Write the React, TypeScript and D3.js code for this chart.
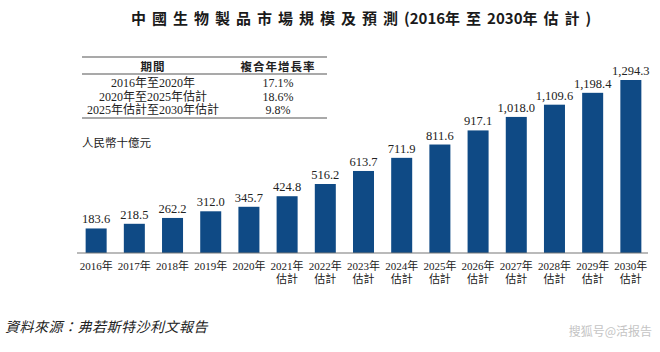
import * as d3 from "d3";

const years = ["2016", "2017", "2018", "2019", "2020", "2021", "2022", "2023", "2024", "2025", "2026", "2027", "2028", "2029", "2030"];
const estimated = [false, false, false, false, false, true, true, true, true, true, true, true, true, true, true];
const values = [183.6, 218.5, 262.2, 312.0, 345.7, 424.8, 516.2, 613.7, 711.9, 811.6, 917.1, 1018.0, 1109.6, 1198.4, 1294.3];

const cagrPeriods = ["2016年至2020年", "2020年至2025年估計", "2025年估計至2030年估計"];
const cagrRates = ["17.1%", "18.6%", "9.8%"];

const titleParts = [
  { t: "中國生物製品市場規模及預測", cjk: true },
  { t: "(2016", cjk: false },
  { t: "年至", cjk: true },
  { t: "2030", cjk: false },
  { t: "年估計", cjk: true },
  { t: ")", cjk: false },
];

const serif = "'Liberation Serif', 'Noto Sans CJK TC', serif";
const sansBold = "'Noto Sans CJK TC', 'Liberation Sans', sans-serif";

export default function App() {
  const width = 660;
  const height = 352;
  const baseY = 253;
  const x = d3.scaleBand<string>().domain(years).range([78, 649]).paddingInner(0.45).paddingOuter(0.2);
  const y = d3.scaleLinear([0, 1400], [baseY, baseY - 1400 * 0.13366]);
  const fmt = d3.format(",.1f");

  const tableL = 82, tableR = 327, col1 = 153, col2 = 278;
  const rowY = [83, 96.5, 110];

  return (
    <svg width={width} height={height} style={{ position: "absolute", left: 0, top: 0, background: "#fff" }}>
      {/* title */}
      <text x={131} y={17} dominantBaseline="central" fontFamily={sansBold} fontWeight="bold" fontSize={15} fill="#1a1a1a">
        {titleParts.map((p, i) => (
          <tspan key={i} letterSpacing={p.cjk ? 6 : 0}>{p.t}</tspan>
        ))}
      </text>

      {/* CAGR table */}
      <g stroke="#555" strokeWidth={1.2}>
        <line x1={tableL} x2={tableR} y1={57} y2={57} />
        <line x1={tableL} x2={tableR} y1={74} y2={74} />
        <line x1={tableL} x2={tableR} y1={118} y2={118} />
      </g>
      <g fontFamily={sansBold} fontWeight="bold" fontSize={11.5} fill="#222" textAnchor="middle">
        <text x={col1} y={66} dominantBaseline="central" letterSpacing={1}>期間</text>
        <text x={col2} y={66} dominantBaseline="central" letterSpacing={1}>複合年增長率</text>
      </g>
      <g fontFamily={serif} fontSize={12} fill="#222" textAnchor="middle">
        {cagrPeriods.map((p, i) => (
          <text key={p} x={col1} y={rowY[i]} dominantBaseline="central">{p}</text>
        ))}
        {cagrRates.map((r, i) => (
          <text key={r} x={col2} y={rowY[i]} dominantBaseline="central">{r}</text>
        ))}
      </g>
      <text x={82} y={143} dominantBaseline="central" fontFamily={serif} fontSize={11.5} fill="#222">人民幣十億元</text>

      {/* bars */}
      <g fill="#0f4a85">
        {years.map((yr, i) => (
          <rect key={yr} x={x(yr)} y={y(values[i])} width={x.bandwidth()} height={baseY - y(values[i])} />
        ))}
      </g>
      <g fontFamily={serif} fontSize={12.5} fill="#222" textAnchor="middle">
        {years.map((yr, i) => (
          <text key={yr} x={(x(yr) ?? 0) + x.bandwidth() / 2} y={y(values[i]) - 5}>{fmt(values[i])}</text>
        ))}
      </g>
      <line x1={77} x2={648} y1={baseY} y2={baseY} stroke="#777" strokeWidth={1.2} />

      {/* x labels */}
      <g fontFamily={serif} fontSize={11} fill="#222" textAnchor="middle">
        {years.map((yr, i) => {
          const cx = (x(yr) ?? 0) + x.bandwidth() / 2;
          return (
            <g key={yr}>
              <text x={cx} y={266} dominantBaseline="central">{yr + "年"}</text>
              {estimated[i] && <text x={cx} y={279} dominantBaseline="central">估計</text>}
            </g>
          );
        })}
      </g>

      {/* source */}
      <text x={5} y={327} dominantBaseline="central" fontFamily={serif} fontSize={14} fontStyle="italic" letterSpacing={0.5} fill="#222">
        資料來源：弗若斯特沙利文報告
      </text>
      <text x={652} y={330} dominantBaseline="central" textAnchor="end" fontFamily={sansBold} fontSize={12} fill="#c4c4c4">
        搜狐号@活报告
      </text>
    </svg>
  );
}
